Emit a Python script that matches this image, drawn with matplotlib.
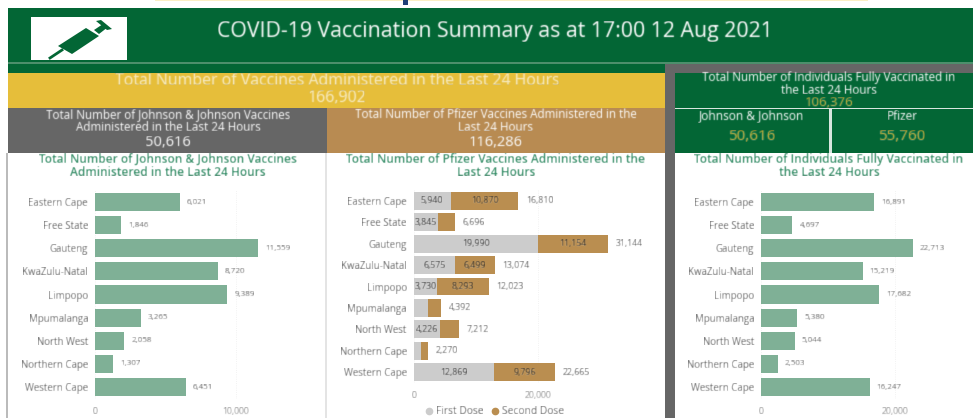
import numpy as np
import matplotlib
matplotlib.use('Agg')
import matplotlib.pyplot as plt
from matplotlib.lines import Line2D
from matplotlib.patches import Rectangle, Polygon

W, H = 973, 418

provinces = ['Eastern Cape', 'Free State', 'Gauteng', 'KwaZulu-Natal', 'Limpopo',
	'Mpumalanga', 'North West', 'Northern Cape', 'Western Cape']
jj_values = [6021, 1846, 11559, 8720, 9389, 3265, 2058, 1307, 6451]
first_dose = [5940, 3845, 19990, 6575, 3730, 2354, 4226, 1124, 12869]
second_dose = [10870, 2851, 11154, 6499, 8293, 2038, 2986, 1146, 9796]
pfizer_totals = [16810, 6696, 31144, 13074, 12023, 4392, 7212, 2270, 22665]
full_values = [16891, 4697, 22713, 15219, 17682, 5380, 5044, 2503, 16247]

GREEN = '#036635'
GOLD = '#E6BE3A'
DARK = '#666666'
TAN = '#B88B52'
BAR = '#7FB096'
TITLE = '#2F8A63'
VALUE = '#C9B23A'
LABEL = '#555555'

plt.rcParams['font.family'] = ['Open Sans', 'DejaVu Sans']


def blur(image, dpi):
	# the reference is a soft upscaled screenshot
	kernel = np.array([0.15, 0.7, 0.15])
	out = image.copy()
	for axis in (0, 1):
		out = np.apply_along_axis(lambda v: np.convolve(v, kernel, mode='same'), axis, out)
	return out, 0, 0


fig = plt.figure(figsize=(W/100, H/100), dpi=100, facecolor='white')
bg = fig.add_axes([0, 0, 1, 1])
bg.set_xlim(0, W)
bg.set_ylim(H, 0)
bg.axis('off')


def box(x0, y0, x1, y1, color):
	bg.add_patch(Rectangle((x0, y0), x1-x0, y1-y0, facecolor=color, edgecolor='none'))


def label(x, y, s, size, color='white', **kw):
	bg.text(x, y, s, fontsize=size, color=color, ha='center', va='center', **kw)


# top strip from the slide above
box(155, 0, 868, 1, '#FBEFC4')
box(403, 0, 408, 5, '#1F3F77')

# banners
box(8, 8, W, 62, GREEN)
box(8, 62, W, 63.5, '#4D8F6C')
box(8, 64, 665, 73, GREEN)
box(665, 64, W, 73, DARK)
box(8, 73, 665, 108, GOLD)
box(8, 108, 327, 153, DARK)
box(327, 108, 665, 153, TAN)
box(665, 73, 675, H, DARK)
box(675, 73, W, 153, GREEN)
box(675, 108, W, 109, '#D8E6DE')
box(829, 109, 832, 153, '#D8E6DE')
box(6, 153, 8, H, '#BBBBBB')
box(325, 153, 327, H, '#E4E4E4')

# syringe icon
box(31, 17, 127, 60, 'white')
bg.add_patch(Polygon([(58, 46), (86, 28), (99, 36), (72, 54)], facecolor=GREEN))
bg.add_patch(Polygon([(94, 30), (103, 24), (108, 27), (99, 34)], facecolor=GREEN))
bg.add_patch(Polygon([(96, 21), (101, 20), (112, 29), (107, 30)], facecolor=GREEN))
bg.plot([50, 62], [58, 50], color=GREEN, lw=2)

label(495, 31, 'COVID-19 Vaccination Summary as at 17:00 12 Aug 2021', 15.3)
label(337, 81, 'Total Number of Vaccines Administered in the Last 24 Hours', 11.4, color='#F7ECC4')
label(337, 98, '166,902', 11.5, color='#F7ECC4')
label(168, 121, 'Total Number of Johnson & Johnson Vaccines\nAdministered in the Last 24 Hours', 8.4, linespacing=1.0)
label(168, 143, '50,616', 10.5)
label(496, 121, 'Total Number of Pfizer Vaccines Administered in the\nLast 24 Hours', 8.4, linespacing=1.0)
label(496, 143, '116,286', 10.5)
label(829, 84, 'Total Number of Individuals Fully Vaccinated in\nthe Last 24 Hours', 8.4, linespacing=1.0)
label(829, 103, '106,376', 9.5, VALUE)
label(752, 116, 'Johnson & Johnson', 8.6)
label(902, 116, 'Pfizer', 8.6)
label(752, 137, '50,616', 11, VALUE)
label(902, 137, '55,760', 11, VALUE)
label(168, 166, 'Total Number of Johnson & Johnson Vaccines\nAdministered in the Last 24 Hours', 8.6, TITLE, linespacing=1.0, fontweight='semibold')
label(496, 166, 'Total Number of Pfizer Vaccines Administered in the\nLast 24 Hours', 8.6, TITLE, linespacing=1.0, fontweight='semibold')
label(829, 166, 'Total Number of Individuals Fully Vaccinated in\nthe Last 24 Hours', 8.6, TITLE, linespacing=1.0, fontweight='semibold')


def chart(x0, x1, scale, y_first, y_last, ticks):
	step = (y_last-y_first)/8
	top = y_first-step/2
	bottom = y_last+step/2
	ax = fig.add_axes([x0/W, 1-bottom/H, (x1-x0)/W, (bottom-top)/H])
	ax.patch.set_alpha(0)
	ax.set_xlim(0, (x1-x0)/scale)
	ax.set_ylim(8.5, -0.5)
	ax.set_yticks(range(9))
	ax.set_yticklabels(provinces, fontsize=6.9, color=LABEL)
	ax.set_xticks(ticks)
	ax.set_xticklabels([f'{t:,}' for t in ticks], fontsize=6.2, color='#888888')
	ax.tick_params(length=0, pad=5)
	ax.tick_params(axis='x', pad=6)
	for s in ax.spines.values():
		s.set_visible(False)
	ax.grid(axis='x', color='#EEEEEE', lw=0.6, ls=':')
	ax.set_axisbelow(True)
	return ax


ax1 = chart(95, 320, 0.0141, 202, 387, [0, 10000])
ax1.barh(provinces, jj_values, height=0.78, color=BAR)
for i, v in enumerate(jj_values):
	ax1.text(v+500, i, f'{v:,}', fontsize=5.8, color=LABEL, va='center')

ax2 = chart(413.7, 660, 0.00623, 201, 372, [0, 20000])
ax2.barh(provinces, first_dose, height=0.84, color='#CCCCCC')
ax2.barh(provinces, second_dose, left=first_dose, height=0.84, color='#BA8E50')
for i, t in enumerate(pfizer_totals):
	ax2.text(t+1200, i, f'{t:,}', fontsize=6.3, color=LABEL, va='center')
	# small segments have no label in the reference
	if first_dose[i] >= 3000:
		ax2.text(first_dose[i]/2, i, f'{first_dose[i]:,}', fontsize=6.3, color='#333333', va='center', ha='center')
	if second_dose[i] >= 3000:
		ax2.text(first_dose[i]+second_dose[i]/2, i, f'{second_dose[i]:,}', fontsize=6.3, color='#333333', va='center', ha='center')
handles = [Line2D([], [], ls='', marker='o', ms=4.5, color='#CCCCCC', label='First Dose'),
	Line2D([], [], ls='', marker='o', ms=4.5, color='#BA8E50', label='Second Dose')]
ax2.legend(handles=handles, loc='center', bbox_to_anchor=(495/W, 1-412/H), bbox_transform=fig.transFigure, ncol=2,
	frameon=False, fontsize=7.4, labelcolor=LABEL, handlelength=0.7, handletextpad=0.3, columnspacing=0.8,
	borderpad=0, borderaxespad=0)

ax3 = chart(761, 968, 0.00668, 202, 387, [0, 20000])
ax3.barh(provinces, full_values, height=0.78, color=BAR)
for i, v in enumerate(full_values):
	ax3.text(v+1050, i, f'{v:,}', fontsize=5.8, color=LABEL, va='center')

for t in fig.findobj(matplotlib.text.Text):
	t.set_agg_filter(blur)

fig.savefig('out.png', dpi=100)
